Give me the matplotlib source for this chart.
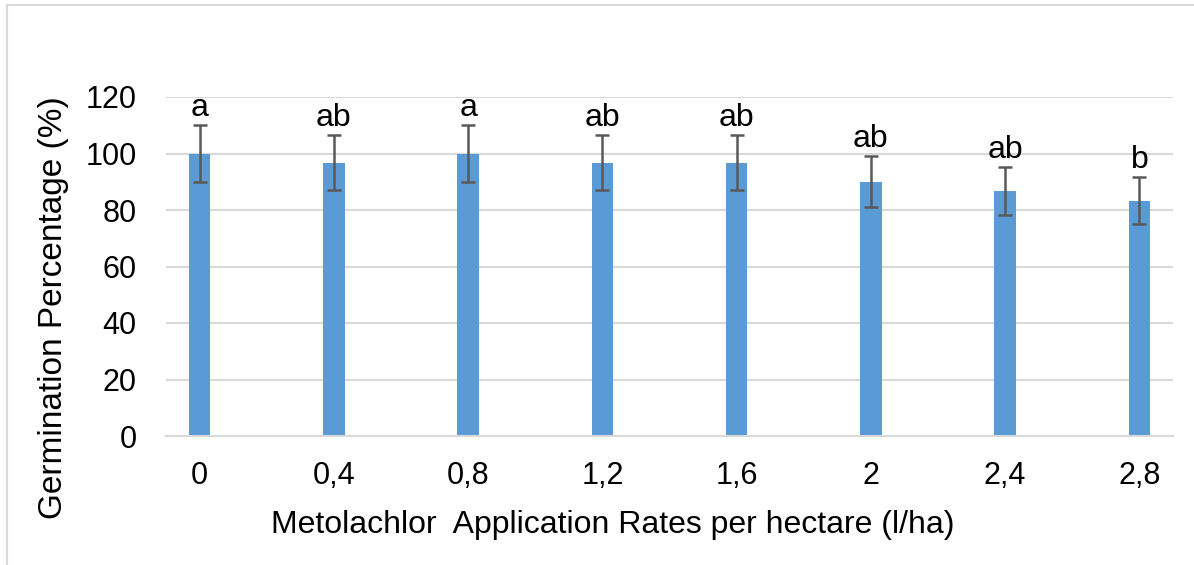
import numpy as np
import matplotlib.pyplot as plt
from matplotlib.lines import Line2D

plt.rcParams['font.family'] = ['Liberation Sans', 'DejaVu Sans']

# metolachlor rates and germination results
rates = ['0', '0,4', '0,8', '1,2', '1,6', '2', '2,4', '2,8']
germination = [100, 96.7, 100, 96.7, 96.7, 90, 86.7, 83.3]
errors = [10, 9.7, 10, 9.7, 9.7, 9, 8.5, 8.3]
letters = ['a', 'ab', 'a', 'ab', 'ab', 'ab', 'ab', 'b']

fig = plt.figure(figsize=(11.94, 5.65), dpi=100)
ax = fig.add_axes([166/1194, 1 - 436/565, (1173 - 166)/1194, (436 - 97)/565])

x = np.arange(len(rates))
ax.bar(x, germination, width=0.16, color='#5b9bd5', zorder=2)
ax.errorbar(x, germination, yerr=errors, fmt='none', ecolor='#595959',
            elinewidth=1.8, capsize=5, capthick=1.8, zorder=3)

for xi, g, e, lab in zip(x, germination, errors, letters):
    ax.annotate(lab, (xi, g + e), xytext=(0, 6.5), textcoords='offset points',
                ha='center', va='baseline', fontsize=23)

ax.set_xlim(-0.25, len(rates) - 0.75)
ax.set_ylim(0, 120)
ax.set_yticks(range(0, 121, 20))
ax.set_xticks(x)
ax.set_xticklabels(rates)
ax.yaxis.grid(True, color='#d9d9d9', linewidth=1.5, zorder=0)
ax.set_axisbelow(True)
for s in ['top', 'right', 'left']:
    ax.spines[s].set_visible(False)
ax.spines['bottom'].set_color('#d9d9d9')
ax.spines['bottom'].set_linewidth(1.5)
ax.tick_params(axis='both', length=0, labelsize=22)
ax.tick_params(axis='x', pad=18)
ax.tick_params(axis='y', pad=21)

ax.set_xlabel('Metolachlor  Application Rates per hectare (l/ha)', fontsize=23, labelpad=14)
ax.set_ylabel('Germination Percentage (%)', fontsize=24, labelpad=12)
ax.xaxis.label.set_x(0.444)
ax.yaxis.label.set_y(0.378)

# chart area frame (top and left edges)
fig.add_artist(Line2D([7/1194, 1], [1 - 5/565, 1 - 5/565], color='#d9d9d9', lw=1.5))
fig.add_artist(Line2D([7/1194, 7/1194], [0, 1 - 5/565], color='#d9d9d9', lw=1.5))

fig.savefig('out.png', dpi=100)
